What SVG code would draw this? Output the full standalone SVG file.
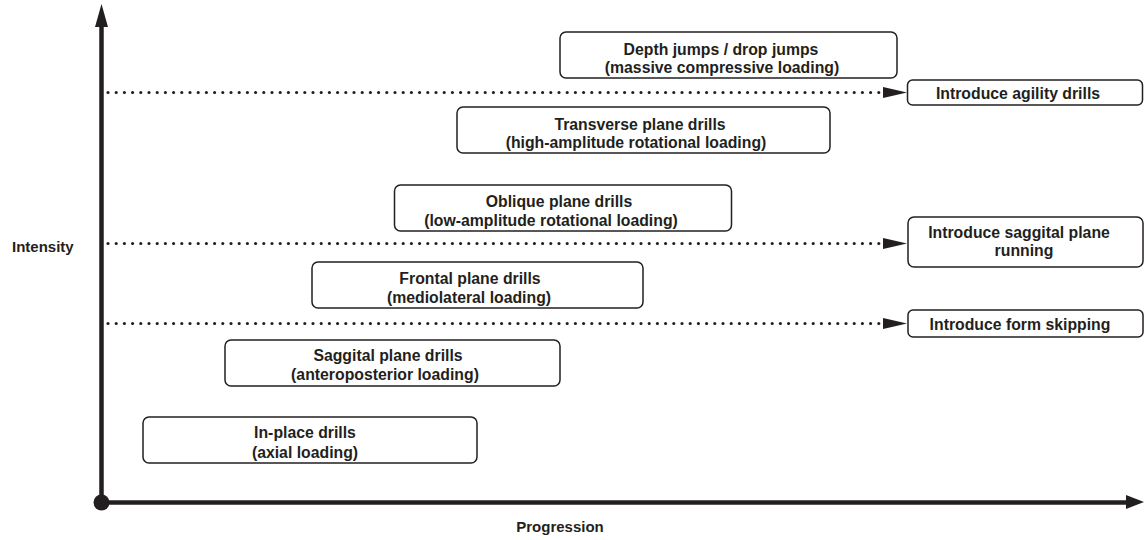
<svg xmlns="http://www.w3.org/2000/svg" width="1144" height="540" viewBox="0 0 1144 540">
<style>
.box{fill:#fff;stroke:#231f20;stroke-width:1.5}
.t{font-family:"Liberation Sans",Arial,sans-serif;font-weight:bold;font-size:15.8px;fill:#231f20;text-anchor:middle}
.lbl{font-family:"Liberation Sans",Arial,sans-serif;font-weight:bold;font-size:15px;fill:#231f20}
.dot{stroke:#231f20;stroke-width:3.2;stroke-linecap:round;stroke-dasharray:0 8.2;fill:none}
.axis{stroke:#231f20;stroke-width:4.5;fill:none}
</style>
<rect width="1144" height="540" fill="#fff"/>
<g id="axes">
<line class="axis" x1="101.5" y1="24" x2="101.5" y2="502.5"/>
<polygon points="101.5,4 95,27 108,27" fill="#231f20"/>
<line class="axis" x1="101.5" y1="502.5" x2="1128" y2="502.5"/>
<polygon points="1144,502 1126,495 1126,509" fill="#231f20"/>
<circle cx="101.5" cy="502.5" r="8" fill="#231f20"/>
<text class="lbl" x="12" y="252">Intensity</text>
<text class="lbl" x="560" y="532" text-anchor="middle">Progression</text>
</g>
<g id="connectors">
<line class="dot" x1="108" y1="92.5" x2="884" y2="92.5"/>
<line class="dot" x1="108" y1="243.5" x2="884" y2="243.5"/>
<line class="dot" x1="108" y1="323.5" x2="884" y2="323.5"/>
<polygon points="907,92.5 883,87 883,98" fill="#231f20"/>
<polygon points="907,243.5 883,238 883,249" fill="#231f20"/>
<polygon points="907,323.5 883,318 883,329" fill="#231f20"/>
</g>
<g id="depth">
<rect class="box" x="560" y="32" width="337" height="46" rx="6"/>
<text class="t" x="721" y="55">Depth jumps / drop jumps</text>
<text class="t" x="722" y="73">(massive compressive loading)</text>
</g>
<g id="agility">
<rect class="box" x="907.5" y="80" width="235" height="25" rx="5"/>
<text class="t" x="1018" y="99">Introduce agility drills</text>
</g>
<g id="transverse">
<rect class="box" x="457" y="107" width="373" height="46" rx="6"/>
<text class="t" x="640" y="130">Transverse plane drills</text>
<text class="t" x="636" y="148">(high-amplitude rotational loading)</text>
</g>
<g id="oblique">
<rect class="box" x="394.5" y="185" width="337" height="46" rx="6"/>
<text class="t" x="559" y="207">Oblique plane drills</text>
<text class="t" x="551" y="226">(low-amplitude rotational loading)</text>
</g>
<g id="running">
<rect class="box" x="908" y="217" width="235" height="50" rx="6"/>
<text class="t" x="1019" y="238">Introduce saggital plane</text>
<text class="t" x="1024" y="256">running</text>
</g>
<g id="frontal">
<rect class="box" x="312" y="262" width="331" height="46" rx="6"/>
<text class="t" x="470" y="284">Frontal plane drills</text>
<text class="t" x="469" y="303">(mediolateral loading)</text>
</g>
<g id="skipping">
<rect class="box" x="908" y="310" width="235" height="27" rx="5"/>
<text class="t" x="1020" y="330">Introduce form skipping</text>
</g>
<g id="saggital">
<rect class="box" x="225" y="340" width="335" height="46" rx="6"/>
<text class="t" x="388" y="361">Saggital plane drills</text>
<text class="t" x="385" y="380">(anteroposterior loading)</text>
</g>
<g id="inplace">
<rect class="box" x="143" y="417" width="334" height="46" rx="6"/>
<text class="t" x="305" y="438">In-place drills</text>
<text class="t" x="305" y="458">(axial loading)</text>
</g>
</svg>
